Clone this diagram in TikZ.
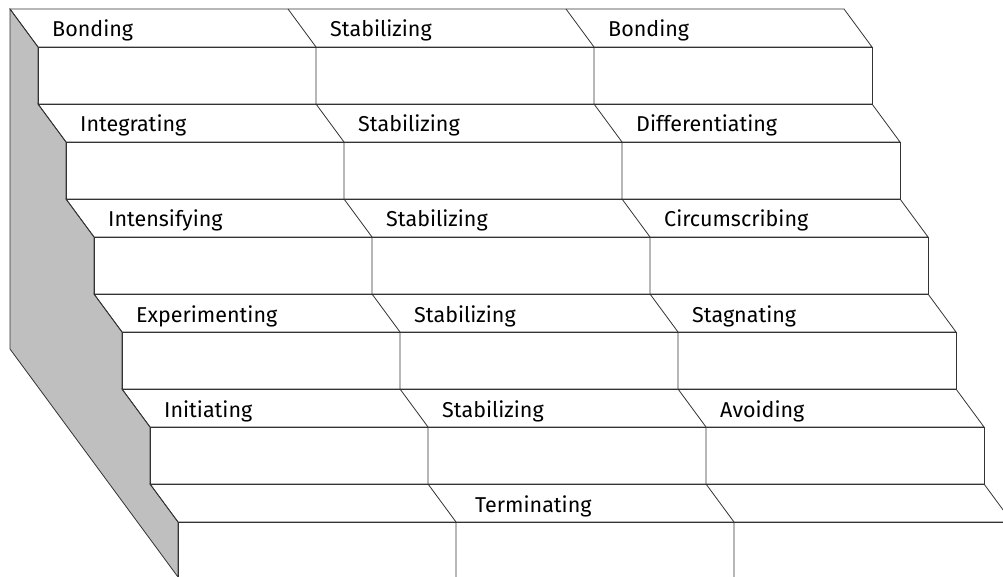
\documentclass[tikz,border=0pt]{standalone}
\usepackage{fontspec}
\setmainfont{Fira Sans}
\usetikzlibrary{positioning, calc}

\tikzset{
  stepline/.style={draw=black!80, line width=0.8pt},
  sideface/.style={fill=black!25, draw=black!80, line width=0.8pt},
  steplabel/.style={anchor=base west, inner sep=0pt, font=\fontsize{21.5}{24}\selectfont}
}

\begin{document}
\begin{tikzpicture}[x=1pt, y=-1pt]
\useasboundingbox (0,0) rectangle (1003,577);
\clip (0,0) rectangle (1003,577);

% grey side
\fill[sideface] (10,9) -- (10,349) -- (178,577) -- (178,522) -- (150,484) -- (150,427) -- (122,389) -- (122,332) -- (94,294) -- (94,237) -- (66,199) -- (66,142) -- (38,104) -- (38,47) -- cycle;

% the six steps
\foreach \k in {0,...,5} {
  \pgfmathsetmacro{\bx}{10+28*\k}
  \pgfmathsetmacro{\ty}{9+95*\k}
  \pgfmathsetmacro{\by}{ifthenelse(\k==5,600,\ty+95)}
  \draw[stepline] (\bx,\ty) -- ++(834,0) -- ++(28,38) -- ++(-834,0) -- cycle;
  \draw[stepline] (\bx+28,\ty+38) rectangle (\bx+862,\by);
  \foreach \j in {1,2}
    \draw[stepline] (\bx+278*\j,\ty) -- ++(28,38) -- (\bx+278*\j+28,\by);
}

\node[steplabel] (bond1) at (52,37) {Bonding};
\node[steplabel] (stab1) at (330,37) {Stabilizing};
\node[steplabel] (bond2) at (608,37) {Bonding};

\node[steplabel] (integ) at (80,132) {Integrating};
\node[steplabel] (stab2) at (358,132) {Stabilizing};
\node[steplabel] (diff) at (636,132) {Differentiating};

\node[steplabel] (inten) at (108,227) {Intensifying};
\node[steplabel] (stab3) at (386,227) {Stabilizing};
\node[steplabel] (circ) at (664,227) {Circumscribing};

\node[steplabel] (exper) at (136,322) {Experimenting};
\node[steplabel] (stab4) at (414,322) {Stabilizing};
\node[steplabel] (stag) at (692,322) {Stagnating};

\node[steplabel] (init) at (164,417) {Initiating};
\node[steplabel] (stab5) at (442,417) {Stabilizing};
\node[steplabel] (avoid) at (720,417) {Avoiding};

\node[steplabel] (term) at (475,512) {Terminating};

\end{tikzpicture}
\end{document}
